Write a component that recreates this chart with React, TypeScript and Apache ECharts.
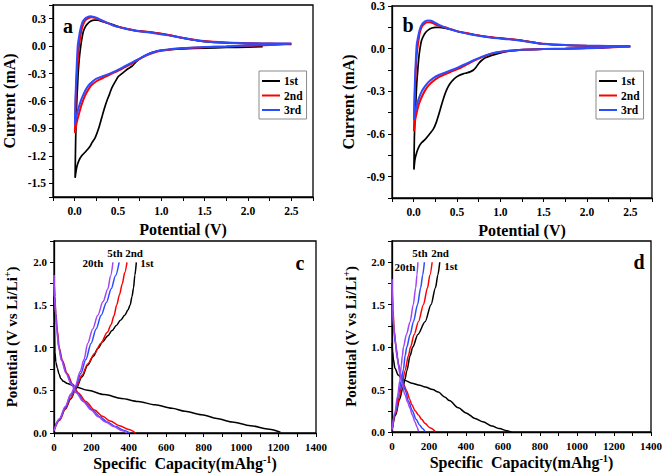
import React, { useEffect, useRef } from 'react';
import * as echarts from 'echarts';

// ---------- Panel a: CV (current in mA vs potential in V) ----------
const cvNames = ['1st', '2nd', '3rd'];
const a1st = [
  [2.17, -0.005], [2.0, -0.01], [1.75, -0.015], [1.5, -0.022], [1.25, -0.03], [1.1, -0.038], [1.0, -0.047],
  [0.92, -0.062], [0.855, -0.083], [0.8, -0.11], [0.738, -0.146], [0.7, -0.18], [0.661, -0.22], [0.62, -0.245],
  [0.584, -0.27], [0.545, -0.3], [0.506, -0.33], [0.47, -0.385], [0.429, -0.456], [0.4, -0.53], [0.371, -0.6],
  [0.34, -0.69], [0.313, -0.78], [0.28, -0.89], [0.237, -1.0], [0.2, -1.055], [0.178, -1.095], [0.13, -1.15],
  [0.081, -1.2], [0.05, -1.25], [0.025, -1.32], [0.005, -1.44],
  [0.012, -1.0], [0.023, -0.64], [0.035, -0.4], [0.042, -0.27], [0.055, -0.12], [0.07, 0.0], [0.085, 0.09],
  [0.1, 0.16], [0.12, 0.205], [0.14, 0.235], [0.178, 0.27], [0.23, 0.285], [0.27, 0.283], [0.313, 0.27],
  [0.37, 0.255], [0.43, 0.24], [0.55, 0.2], [0.7, 0.17], [0.89, 0.15], [1.09, 0.12], [1.24, 0.09],
  [1.4, 0.062], [1.5, 0.05], [1.75, 0.035], [2.0, 0.027], [2.25, 0.022], [2.5, 0.02]
];
const a2nd = [
  [2.5, 0.025], [2.25, 0.012], [2.0, 0.005], [1.75, -0.004], [1.5, -0.012], [1.25, -0.022], [1.0, -0.05],
  [0.9, -0.075], [0.81, -0.11], [0.73, -0.15], [0.66, -0.19], [0.58, -0.23], [0.51, -0.265], [0.43, -0.3],
  [0.35, -0.335], [0.28, -0.37], [0.235, -0.395], [0.19, -0.43], [0.16, -0.47], [0.12, -0.54], [0.08, -0.64],
  [0.05, -0.74], [0.03, -0.81], [0.012, -0.89], [0.003, -0.95],
  [0.01, -0.64], [0.02, -0.4], [0.028, -0.27], [0.04, -0.1], [0.05, 0.0], [0.065, 0.1], [0.08, 0.18],
  [0.1, 0.24], [0.12, 0.28], [0.16, 0.308], [0.2, 0.315], [0.23, 0.31], [0.26, 0.3], [0.31, 0.28],
  [0.36, 0.26], [0.45, 0.225], [0.51, 0.21], [0.6, 0.19], [0.7, 0.172], [0.9, 0.15], [1.1, 0.12],
  [1.25, 0.09], [1.5, 0.055], [1.75, 0.04], [2.0, 0.032], [2.25, 0.028], [2.5, 0.025]
];
const a3rd = [
  [2.5, 0.03], [2.25, 0.014], [2.0, 0.006], [1.75, -0.003], [1.5, -0.01], [1.25, -0.02], [1.0, -0.045],
  [0.9, -0.07], [0.81, -0.105], [0.73, -0.145], [0.66, -0.18], [0.58, -0.22], [0.51, -0.255], [0.43, -0.29],
  [0.35, -0.32], [0.28, -0.345], [0.235, -0.365], [0.19, -0.4], [0.16, -0.43], [0.12, -0.49], [0.08, -0.575],
  [0.05, -0.66], [0.03, -0.73], [0.012, -0.8], [0.003, -0.86],
  [0.01, -0.55], [0.02, -0.3], [0.035, 0.0], [0.05, 0.1], [0.065, 0.18], [0.085, 0.25], [0.1, 0.28],
  [0.13, 0.31], [0.18, 0.328], [0.21, 0.323], [0.25, 0.31], [0.3, 0.288], [0.36, 0.262], [0.45, 0.225],
  [0.51, 0.208], [0.6, 0.188], [0.7, 0.168], [0.9, 0.145], [1.1, 0.115], [1.25, 0.088], [1.5, 0.052],
  [1.75, 0.038], [2.0, 0.032], [2.25, 0.028], [2.5, 0.03]
];

// ---------- Panel b: CV ----------
const b1st = [
  [2.2, 0.004], [2.0, 0.003], [1.75, 0.0], [1.5, -0.003], [1.25, -0.008], [1.1, -0.018], [0.98, -0.033], [0.9, -0.047],
  [0.826, -0.064], [0.78, -0.085], [0.75, -0.104], [0.72, -0.13], [0.69, -0.15], [0.65, -0.163], [0.614, -0.17],
  [0.57, -0.177], [0.517, -0.19], [0.47, -0.21], [0.42, -0.245], [0.38, -0.29], [0.344, -0.35], [0.31, -0.42],
  [0.286, -0.47], [0.26, -0.52], [0.228, -0.564], [0.17, -0.61], [0.13, -0.64], [0.093, -0.66], [0.06, -0.69],
  [0.035, -0.73], [0.015, -0.78], [0.003, -0.85],
  [0.008, -0.63], [0.015, -0.5], [0.023, -0.4], [0.035, -0.25], [0.046, -0.16], [0.06, -0.06], [0.073, 0.0],
  [0.09, 0.055], [0.112, 0.088], [0.14, 0.115], [0.17, 0.132], [0.21, 0.145], [0.25, 0.15], [0.3, 0.15],
  [0.363, 0.144], [0.44, 0.133], [0.517, 0.12], [0.62, 0.108], [0.71, 0.097], [0.9, 0.08], [1.1, 0.068],
  [1.25, 0.057], [1.4, 0.042], [1.5, 0.033], [1.75, 0.024], [2.0, 0.019], [2.25, 0.016], [2.5, 0.015]
];
const b2nd = [
  [2.5, 0.015], [2.25, 0.008], [2.0, 0.003], [1.75, 0.0], [1.5, -0.003], [1.25, -0.007], [1.1, -0.015],
  [0.98, -0.025], [0.9, -0.035], [0.83, -0.05], [0.75, -0.07], [0.68, -0.09], [0.6, -0.115], [0.52, -0.14],
  [0.44, -0.16], [0.36, -0.18], [0.29, -0.2], [0.23, -0.225], [0.17, -0.26], [0.13, -0.295], [0.093, -0.34],
  [0.06, -0.39], [0.035, -0.45], [0.015, -0.51], [0.003, -0.58],
  [0.008, -0.45], [0.015, -0.28], [0.025, -0.14], [0.035, -0.045], [0.045, 0.01], [0.054, 0.05], [0.07, 0.11],
  [0.085, 0.14], [0.1, 0.16], [0.13, 0.178], [0.16, 0.185], [0.19, 0.186], [0.22, 0.18], [0.25, 0.17],
  [0.3, 0.16], [0.36, 0.15], [0.44, 0.135], [0.52, 0.12], [0.62, 0.108], [0.71, 0.097], [0.9, 0.08],
  [1.1, 0.068], [1.25, 0.057], [1.4, 0.042], [1.5, 0.034], [1.75, 0.025], [2.0, 0.02], [2.25, 0.018], [2.5, 0.015]
];
const b3rd = [
  [2.5, 0.018], [2.25, 0.009], [2.0, 0.004], [1.75, 0.0], [1.5, -0.003], [1.25, -0.007], [1.1, -0.014],
  [0.98, -0.024], [0.9, -0.033], [0.83, -0.047], [0.75, -0.066], [0.68, -0.085], [0.6, -0.108], [0.52, -0.13],
  [0.44, -0.15], [0.36, -0.168], [0.29, -0.185], [0.23, -0.205], [0.17, -0.235], [0.13, -0.265], [0.093, -0.3],
  [0.06, -0.35], [0.035, -0.4], [0.015, -0.45], [0.003, -0.5],
  [0.008, -0.38], [0.015, -0.22], [0.025, -0.08], [0.035, 0.026], [0.05, 0.08], [0.073, 0.14], [0.1, 0.175],
  [0.13, 0.192], [0.17, 0.198], [0.2, 0.196], [0.24, 0.185], [0.3, 0.165], [0.36, 0.15], [0.44, 0.133],
  [0.52, 0.118], [0.62, 0.105], [0.71, 0.094], [0.9, 0.077], [1.1, 0.066], [1.25, 0.055], [1.4, 0.041],
  [1.5, 0.033], [1.75, 0.025], [2.0, 0.021], [2.25, 0.019], [2.5, 0.018]
];

// ---------- Panel c: charge/discharge (V vs capacity mAh/g) ----------
const c1stDis = [
  [0, 1.6], [2, 1.3], [5, 0.95], [10, 0.83], [18, 0.76], [27, 0.69], [36, 0.64], [50, 0.605], [72, 0.58],
  [117, 0.54], [180, 0.5], [270, 0.45], [360, 0.405], [450, 0.37], [540, 0.33], [630, 0.29], [700, 0.255],
  [789, 0.215], [870, 0.17], [951, 0.13], [1050, 0.085], [1150, 0.045], [1210, 0.01]
];
const c1stChg = [
  [0, 0.05], [30, 0.16], [60, 0.28], [90, 0.4], [117, 0.52], [150, 0.66], [180, 0.795], [210, 0.9],
  [234, 0.99], [260, 1.07], [288, 1.14], [310, 1.2], [333, 1.26], [355, 1.32], [378, 1.38], [395, 1.44],
  [407, 1.5], [417, 1.6], [425, 1.7], [432, 1.85], [440, 2.0]
];
const c2ndDis = [
  [0, 1.85], [4, 1.6], [10, 1.4], [18, 1.2], [28, 1.0], [45, 0.85], [70, 0.7], [100, 0.57], [130, 0.47],
  [170, 0.37], [216, 0.27], [260, 0.195], [300, 0.14], [350, 0.085], [400, 0.04], [435, 0.0]
];
const c2ndChg = [
  [0, 0.03], [30, 0.15], [60, 0.28], [90, 0.41], [117, 0.53], [150, 0.68], [180, 0.81], [216, 0.93],
  [250, 1.05], [285, 1.18], [305, 1.27], [320, 1.37], [335, 1.5], [350, 1.62], [365, 1.75], [378, 1.88], [390, 2.0]
];
const c5thDis = [
  [0, 1.85], [4, 1.6], [9, 1.4], [16, 1.2], [26, 1.0], [42, 0.85], [66, 0.7], [95, 0.57], [125, 0.47],
  [160, 0.37], [205, 0.27], [245, 0.19], [285, 0.13], [330, 0.075], [375, 0.03], [405, 0.0]
];
const c5thChg = [
  [0, 0.03], [30, 0.16], [60, 0.3], [90, 0.44], [115, 0.54], [144, 0.7], [170, 0.86], [198, 1.05],
  [225, 1.22], [252, 1.38], [280, 1.53], [306, 1.69], [328, 1.84], [348, 2.0]
];
const c20thDis = [
  [0, 1.85], [3, 1.6], [8, 1.4], [15, 1.2], [25, 1.0], [40, 0.85], [64, 0.7], [92, 0.57], [120, 0.47],
  [155, 0.37], [198, 0.27], [236, 0.19], [275, 0.13], [320, 0.075], [362, 0.03], [390, 0.0]
];
const c20thChg = [
  [0, 0.03], [30, 0.17], [60, 0.31], [90, 0.46], [113, 0.55], [140, 0.72], [160, 0.86], [180, 1.05],
  [207, 1.22], [234, 1.38], [262, 1.54], [288, 1.69], [302, 1.84], [315, 2.0]
];

// ---------- Panel d: charge/discharge ----------
const d1stDis = [
  [0, 1.05], [3, 0.95], [8, 0.85], [16, 0.75], [34, 0.67], [55, 0.625], [67, 0.61], [107, 0.575],
  [150, 0.55], [179, 0.53], [220, 0.5], [250, 0.47], [287, 0.41], [310, 0.37], [359, 0.285], [400, 0.225],
  [449, 0.16], [491, 0.12], [540, 0.07], [581, 0.04], [620, 0.015], [645, 0.0]
];
const d1stChg = [
  [0, 0.02], [20, 0.2], [40, 0.38], [60, 0.53], [70, 0.62], [80, 0.72], [98, 0.9], [112, 1.0], [140, 1.15],
  [179, 1.3], [211, 1.5], [235, 1.7], [248, 1.85], [258, 2.0]
];
const d2ndDis = [
  [0, 1.8], [5, 1.45], [12, 1.2], [22, 1.0], [35, 0.8], [52, 0.63], [65, 0.55], [80, 0.48], [95, 0.39],
  [107, 0.32], [125, 0.25], [143, 0.2], [160, 0.15], [179, 0.1], [205, 0.05], [232, 0.01]
];
const d2ndChg = [
  [0, 0.02], [20, 0.22], [40, 0.42], [55, 0.57], [70, 0.72], [89, 0.9], [100, 1.0], [120, 1.15], [143, 1.3],
  [170, 1.5], [192, 1.7], [205, 1.85], [217, 2.0]
];
const d5thDis = [
  [0, 1.8], [4, 1.45], [10, 1.2], [18, 1.05], [28, 0.88], [40, 0.74], [52, 0.62], [70, 0.5], [90, 0.36],
  [110, 0.25], [130, 0.15], [150, 0.08], [165, 0.04], [177, 0.01]
];
const d5thChg = [
  [0, 0.02], [18, 0.23], [35, 0.44], [50, 0.6], [62, 0.74], [71, 0.9], [80, 1.0], [98, 1.15], [116, 1.3],
  [138, 1.5], [155, 1.7], [166, 1.85], [175, 2.0]
];
const d20thDis = [
  [0, 1.8], [3, 1.5], [8, 1.25], [16, 1.1], [25, 0.93], [34, 0.79], [43, 0.68], [52, 0.59], [70, 0.44],
  [85, 0.35], [97, 0.28], [110, 0.2], [124, 0.12], [135, 0.06], [143, 0.01]
];
const d20thChg = [
  [0, 0.03], [15, 0.22], [30, 0.42], [42, 0.6], [50, 0.78], [56, 0.9], [62, 1.0], [78, 1.15], [98, 1.3],
  [115, 1.5], [128, 1.7], [135, 1.85], [140, 2.0]
];

const FONT = 'Liberation Serif';
const BLACK = '#000000';
const RED = '#ff0000';
const BLUE = '#2b4bff';
const PURPLE = '#a246f0';

function fmtStep(step: number, digits: number) {
  return (v: number) => {
    const r = v / step;
    if (Math.abs(r - Math.round(r)) > 1e-6) return '';
    if (Math.abs(v) < 1e-9) return (0).toFixed(digits);
    return v.toFixed(digits);
  };
}

function axis(opts: any) {
  return {
    type: 'value',
    gridIndex: opts.grid,
    min: opts.min,
    max: opts.max,
    interval: opts.interval,
    name: opts.name,
    nameLocation: 'middle',
    nameGap: opts.nameGap,
    nameTextStyle: {
      fontFamily: FONT, fontWeight: 'bold', fontSize: opts.nameSize, color: '#000',
      rich: {
        sup: { fontFamily: FONT, fontWeight: 'bold', fontSize: opts.nameSize * 0.65, color: '#000', padding: [0, 0, opts.nameSize * 0.55, 0] },
        t: { fontFamily: FONT, fontWeight: 'bold', fontSize: opts.nameSize, color: '#000' },
      },
    },
    axisLine: { show: true, onZero: false, lineStyle: { color: '#000', width: 1.3 } },
    axisTick: { show: true, inside: false, length: 4, lineStyle: { color: '#000', width: 1 } },
    axisLabel: {
      formatter: fmtStep(opts.labelStep, opts.digits),
      color: '#000', fontFamily: FONT, fontWeight: 'bold', fontSize: opts.labelSize, margin: opts.margin,
    },
    splitLine: { show: false },
  };
}

function line(name: string, data: number[][], color: string, idx: number, width: number, smooth: any, mono?: string) {
  const s: any = {
    type: 'line', name, data, xAxisIndex: idx, yAxisIndex: idx,
    showSymbol: false, symbol: 'none', smooth,
    lineStyle: { color, width }, itemStyle: { color },
    emphasis: { disabled: true }, clip: true,
  };
  if (mono) s.smoothMonotone = mono;
  return s;
}

function legend(left: number) {
  return {
    data: cvNames,
    orient: 'vertical',
    left, top: 71,
    icon: 'rect',
    itemWidth: 18, itemHeight: 2, itemGap: 0.5,
    padding: [3, 4, 2, 3],
    borderColor: '#8a8a8a', borderWidth: 1,
    selectedMode: false,
    textStyle: { fontFamily: FONT, fontWeight: 'bold', fontSize: 11.5, color: '#000', lineHeight: 14, padding: [0, 0, 0, -1] },
  };
}

function txt(text: string, x: number, y: number, size: number) {
  return {
    type: 'text', x, y,
    style: { text, fontFamily: FONT, fontWeight: 'bold', fontSize: size, fill: '#000', textAlign: 'center', textVerticalAlign: 'middle' },
  };
}

export default function App() {
  const ref = useRef<HTMLDivElement>(null);
  useEffect(() => {
    const chart = echarts.init(ref.current!, null, { renderer: 'svg' });
    const gridStyle = { show: true, borderColor: '#000', borderWidth: 1.3, containLabel: false };
    const option: any = {
      animation: false,
      backgroundColor: '#fff',
      grid: [
        { ...gridStyle, left: 53, top: 5, width: 260, height: 192 },
        { ...gridStyle, left: 392, top: 6, width: 260, height: 192 },
        { ...gridStyle, left: 54, top: 241, width: 262, height: 192 },
        { ...gridStyle, left: 392, top: 241, width: 259, height: 191 },
      ],
      xAxis: [
        axis({ grid: 0, min: -0.25, max: 2.75, interval: 0.25, labelStep: 0.5, digits: 1, labelSize: 11.5, margin: 8, name: 'Potential (V)', nameGap: 24, nameSize: 16 }),
        axis({ grid: 1, min: -0.25, max: 2.75, interval: 0.25, labelStep: 0.5, digits: 1, labelSize: 11.5, margin: 8, name: 'Potential (V)', nameGap: 24, nameSize: 16 }),
        axis({ grid: 2, min: 0, max: 1400, interval: 100, labelStep: 200, digits: 0, labelSize: 11, margin: 8, name: '{t|Specific  Capacity(mAhg}{sup|-1}{t|)}', nameGap: 21, nameSize: 16 }),
        axis({ grid: 3, min: 0, max: 1400, interval: 100, labelStep: 200, digits: 0, labelSize: 11, margin: 8, name: '{t|Specific  Capacity(mAhg}{sup|-1}{t|)}', nameGap: 21, nameSize: 16 }),
      ],
      yAxis: [
        axis({ grid: 0, min: -1.65, max: 0.45, interval: 0.15, labelStep: 0.3, digits: 1, labelSize: 11.5, margin: 7, name: 'Current (mA)', nameGap: 36, nameSize: 16 }),
        axis({ grid: 1, min: -1.05, max: 0.3, interval: 0.15, labelStep: 0.3, digits: 1, labelSize: 11.5, margin: 7, name: 'Current (mA)', nameGap: 36, nameSize: 16 }),
        axis({ grid: 2, min: 0, max: 2.25, interval: 0.25, labelStep: 0.5, digits: 1, labelSize: 11, margin: 7, name: '{t|Potential (V vs Li/Li}{sup|+}{t|)}', nameGap: 33, nameSize: 15 }),
        axis({ grid: 3, min: 0, max: 2.25, interval: 0.25, labelStep: 0.5, digits: 1, labelSize: 11, margin: 7, name: '{t|Potential (V vs Li/Li}{sup|+}{t|)}', nameGap: 32, nameSize: 15 }),
      ],
      legend: [legend(259), legend(596)],
      series: [
        line('1st', a1st, BLACK, 0, 1.7, 0.25),
        line('2nd', a2nd, RED, 0, 2, 0.25),
        line('3rd', a3rd, BLUE, 0, 2, 0.25),
        line('1st', b1st, BLACK, 1, 1.7, 0.25),
        line('2nd', b2nd, RED, 1, 2, 0.25),
        line('3rd', b3rd, BLUE, 1, 2, 0.25),
        line('c 1st discharge', c1stDis, BLACK, 2, 1.5, 0.3, 'x'),
        line('c 1st charge', c1stChg, BLACK, 2, 1.5, 0.3, 'x'),
        line('c 2nd discharge', c2ndDis, RED, 2, 1.5, 0.3, 'x'),
        line('c 2nd charge', c2ndChg, RED, 2, 1.5, 0.3, 'x'),
        line('c 5th discharge', c5thDis, BLUE, 2, 1.5, 0.3, 'x'),
        line('c 5th charge', c5thChg, BLUE, 2, 1.5, 0.3, 'x'),
        line('c 20th discharge', c20thDis, PURPLE, 2, 1.5, 0.3, 'x'),
        line('c 20th charge', c20thChg, PURPLE, 2, 1.5, 0.3, 'x'),
        line('d 1st discharge', d1stDis, BLACK, 3, 1.5, 0.3, 'x'),
        line('d 1st charge', d1stChg, BLACK, 3, 1.5, 0.3, 'x'),
        line('d 2nd discharge', d2ndDis, RED, 3, 1.5, 0.3, 'x'),
        line('d 2nd charge', d2ndChg, RED, 3, 1.5, 0.3, 'x'),
        line('d 5th discharge', d5thDis, BLUE, 3, 1.5, 0.3, 'x'),
        line('d 5th charge', d5thChg, BLUE, 3, 1.5, 0.3, 'x'),
        line('d 20th discharge', d20thDis, PURPLE, 3, 1.5, 0.3, 'x'),
        line('d 20th charge', d20thChg, PURPLE, 3, 1.5, 0.3, 'x'),
      ],
      graphic: [
        txt('a', 68, 26, 20),
        txt('b', 408, 25, 20),
        txt('c', 300, 263, 20),
        txt('d', 639, 262, 20),
        txt('20th', 93, 263, 11),
        txt('5th', 115, 253, 11),
        txt('2nd', 134, 253, 11),
        txt('1st', 147, 263, 11),
        txt('20th', 405, 267, 11),
        txt('5th', 420, 253, 11),
        txt('2nd', 440, 253, 11),
        txt('1st', 451, 266, 11),
      ],
    };
    chart.setOption(option);
    return () => chart.dispose();
  }, []);
  return <div ref={ref} style={{ position: 'absolute', left: 0, top: 0, width: 666, height: 474 }} />;
}
